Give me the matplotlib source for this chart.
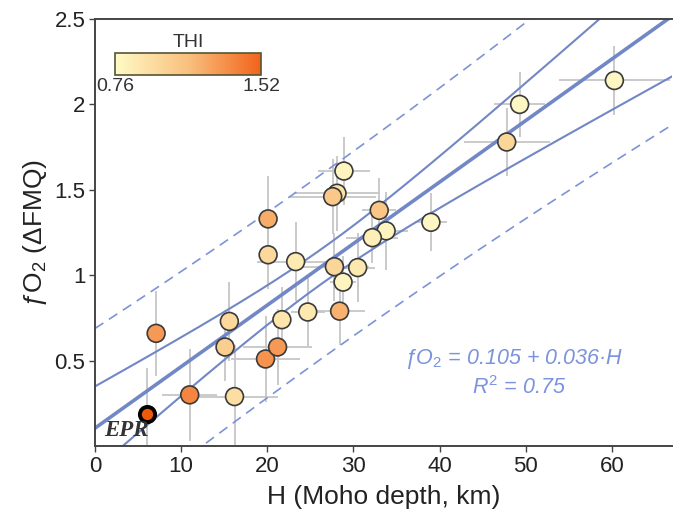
import numpy as np
import matplotlib
matplotlib.use('Agg')
import matplotlib.pyplot as plt
from matplotlib.colors import LinearSegmentedColormap, Normalize
from matplotlib.cm import ScalarMappable

# ---------------------------------------------------------------------------
# data: Moho depth H (km), fO2 (dFMQ), THI, 1-sigma bars
H = [7.1, 11.0, 16.2, 15.6, 15.1, 19.8, 21.2, 21.7, 28.9, 28.1, 27.6, 20.1,
     33.0, 33.8, 32.2, 20.1, 23.3, 27.8, 30.5, 28.8, 24.7, 28.4, 49.3, 47.8,
     60.3, 39.0]
FO2 = [0.66, 0.30, 0.29, 0.73, 0.58, 0.51, 0.58, 0.74, 1.61, 1.48, 1.46, 1.33,
       1.38, 1.26, 1.22, 1.12, 1.08, 1.05, 1.045, 0.96, 0.785, 0.79, 2.00, 1.78,
       2.14, 1.31]
THI = [1.30, 1.38, 0.95, 0.98, 1.05, 1.32, 1.30, 0.90, 0.80, 0.92, 1.08, 1.22,
       1.10, 0.80, 0.84, 0.98, 0.86, 1.00, 0.88, 0.80, 0.88, 1.20, 0.78, 1.00,
       0.78, 0.78]
H_ERR = [0.0, 3.2, 5.0, 0.0, 0.0, 4.0, 4.0, 0.0, 3.0, 5.0, 5.0, 0.0,
         2.0, 2.5, 3.0, 0.0, 4.5, 4.0, 2.0, 1.5, 2.0, 3.0, 3.0, 5.0,
         6.4, 1.9]
FO2_ERR = [0.25, 0.27, 0.30, 0.23, 0.20, 0.25, 0.22, 0.19, 0.20, 0.22, 0.22, 0.25,
           0.19, 0.23, 0.15, 0.20, 0.23, 0.20, 0.20, 0.15, 0.20, 0.20, 0.19, 0.20,
           0.20, 0.17]

# East Pacific Rise reference point
EPR_H, EPR_FO2, EPR_ERR = 6.0, 0.19, 0.27

# published fit
INTERCEPT, SLOPE, R2 = 0.105, 0.036, 0.75
T_95 = 2.06   # student t, df ~ 25

THI_MIN, THI_MAX = 0.76, 1.52

plt.rcParams['font.family'] = ['Liberation Sans', 'DejaVu Sans']
plt.rcParams['mathtext.fontset'] = 'custom'
plt.rcParams['mathtext.rm'] = 'Liberation Sans'
plt.rcParams['mathtext.it'] = 'Liberation Sans:italic'

LINE_C = '#7287c6'
DASH_C = '#7d93d8'
ERR_C = '#c6c6c6'
SPINE_C = '#444444'

cmap = LinearSegmentedColormap.from_list('thi', ['#fffac6', '#f9c07e', '#f2621a'])
norm = Normalize(THI_MIN, THI_MAX)


def main():
    fig = plt.figure(figsize=(6.75, 5.23), dpi=100)
    ax = fig.add_axes([0.1407, 0.147, 0.855, 0.8167])

    x = np.array(H + [EPR_H])
    y = np.array(FO2 + [EPR_FO2])
    n = len(x)

    # confidence / prediction bands around the published line
    resid = y - (INTERCEPT + SLOPE * x)
    s = np.sqrt((resid ** 2).sum() / (n - 2))
    xm = x.mean()
    sxx = ((x - xm) ** 2).sum()
    xx = np.linspace(0, 67, 300)
    yy = INTERCEPT + SLOPE * xx
    conf = T_95 * s * np.sqrt(1.0 / n + (xx - xm) ** 2 / sxx)
    pred = T_95 * s * np.sqrt(1.0 + 1.0 / n + (xx - xm) ** 2 / sxx)

    # error bars
    ax.errorbar(H, FO2, xerr=H_ERR, yerr=FO2_ERR, fmt='none', ecolor=ERR_C,
                elinewidth=1.3, capsize=0, zorder=1)
    ax.errorbar([EPR_H], [EPR_FO2], yerr=[EPR_ERR], fmt='none', ecolor=ERR_C,
                elinewidth=1.3, capsize=0, zorder=1)

    ax.plot(xx, yy, color=LINE_C, lw=2.6, zorder=2)
    ax.plot(xx, yy + conf, color=LINE_C, lw=1.5, zorder=2)
    ax.plot(xx, yy - conf, color=LINE_C, lw=1.5, zorder=2)
    ax.plot(xx, yy + pred, color=DASH_C, lw=1.2, ls=(0, (6, 4)), zorder=2)
    ax.plot(xx, yy - pred, color=DASH_C, lw=1.2, ls=(0, (6, 4)), zorder=2)

    ax.scatter(H, FO2, c=THI, cmap=cmap, norm=norm, s=165,
               edgecolors='#3a3a3a', linewidths=1.2, zorder=3)
    ax.scatter([EPR_H], [EPR_FO2], color='#ee5a0c', s=120,
               edgecolors='black', linewidths=2.8, zorder=4)
    ax.text(1.1, 0.09, 'EPR', fontsize=16.5, fontweight='bold', style='italic',
            family='Liberation Serif', color='#333333', va='center', ha='left',
            zorder=5)

    ax.text(48.6, 0.51, 'ƒO$_2$ = 0.105 + 0.036·H', color='#7b93dc',
            fontsize=15.5, style='italic', ha='center', va='center')
    ax.text(49.2, 0.34, '$R^2$ = 0.75', color='#7b93dc', fontsize=15.5,
            style='italic', ha='center', va='center')

    ax.set_xlim(0, 67)
    ax.set_ylim(0, 2.5)
    ax.set_xticks([0, 10, 20, 30, 40, 50, 60])
    ax.set_yticks([0.5, 1, 1.5, 2, 2.5])
    ax.set_yticklabels(['0.5', '1', '1.5', '2', '2.5'])
    ax.tick_params(labelsize=16, length=4, width=1, colors=SPINE_C,
                   labelcolor='#222222', pad=3)
    ax.spines['right'].set_visible(False)
    for side in ('left', 'bottom', 'top'):
        ax.spines[side].set_color(SPINE_C)
        ax.spines[side].set_linewidth(1.4)

    ax.set_xlabel('H (Moho depth, km)', fontsize=19, color='#222222', labelpad=6)
    ax.set_ylabel('ƒO$_2$ (ΔFMQ)', fontsize=19, color='#222222', labelpad=4)

    # colour bar for THI
    cax = fig.add_axes([0.1705, 0.857, 0.2165, 0.042])
    cb = fig.colorbar(ScalarMappable(norm=norm, cmap=cmap), cax=cax,
                      orientation='horizontal')
    cb.set_ticks([THI_MIN, THI_MAX])
    cb.set_ticklabels(['0.76', '1.52'])
    cb.ax.tick_params(length=0, labelsize=14, pad=2, labelcolor='#333333')
    cb.outline.set_edgecolor('#555533')
    cb.outline.set_linewidth(1.2)
    cax.set_title('THI', fontsize=14, color='#333333', pad=4)

    fig.savefig('out.png', dpi=100)


if __name__ == '__main__':
    main()
